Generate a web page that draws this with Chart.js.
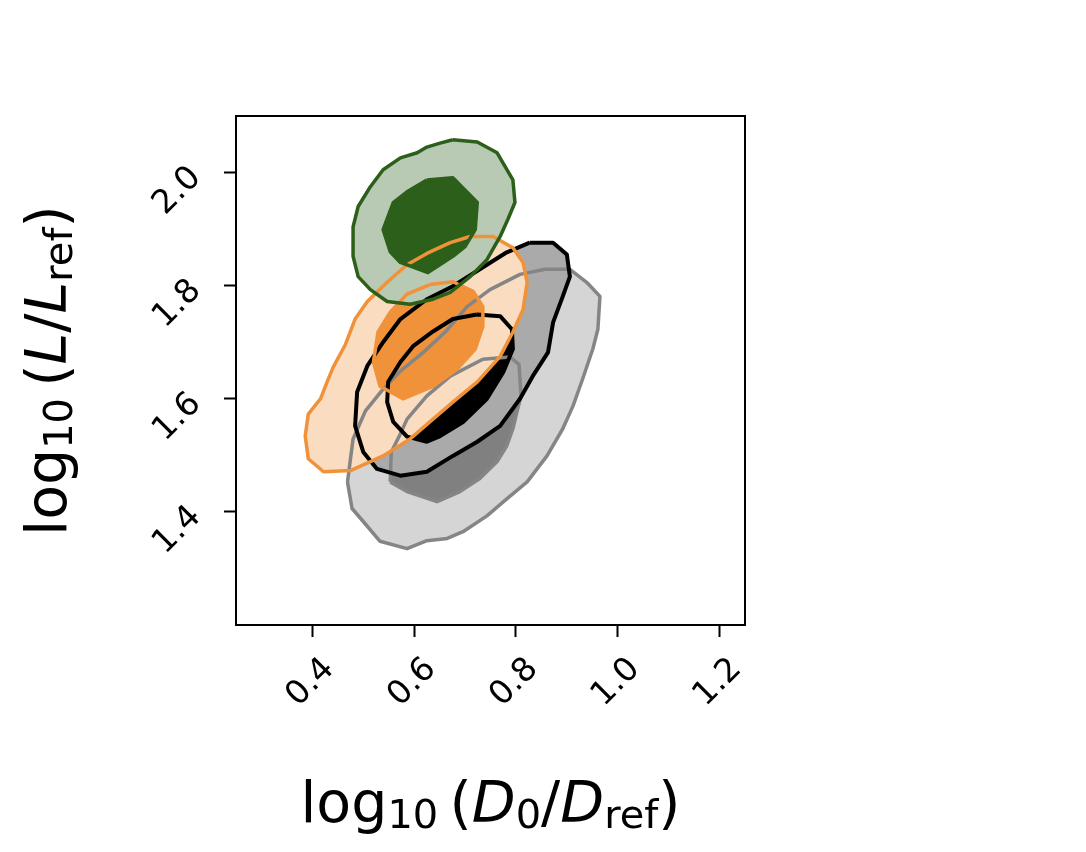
<!DOCTYPE html>
<html>
<head>
<meta charset="utf-8">
<script src="https://cdn.jsdelivr.net/npm/chart.js@4.4.1/dist/chart.umd.min.js"></script>
<style>
  body { margin: 0; background: #fff; }
  canvas { display: block; }
</style>
</head>
<body>
<canvas id="myPlot" width="1086" height="852"></canvas>
<script>
// tick labels
const xTicks = [0.4, 0.6, 0.8, 1.0, 1.2];
const yTicks = [1.4, 1.6, 1.8, 2.0];

// contour levels, [log10(D0/Dref), log10(L/Lref)]
const grayOuter = [[0.469,1.453],[0.478,1.406],[0.500,1.383],[0.533,1.348],[0.586,1.335],[0.625,1.349],[0.665,1.353],[0.696,1.365],[0.743,1.393],[0.782,1.423],[0.822,1.453],[0.861,1.499],[0.892,1.547],[0.912,1.587],[0.931,1.635],[0.951,1.688],[0.961,1.723],[0.965,1.781],[0.939,1.806],[0.906,1.829],[0.857,1.829],[0.808,1.820],[0.749,1.793],[0.704,1.763],[0.661,1.718],[0.618,1.682],[0.573,1.649],[0.539,1.617],[0.504,1.578],[0.480,1.529]];
const grayInner = [[0.553,1.453],[0.555,1.506],[0.573,1.538],[0.586,1.564],[0.625,1.605],[0.671,1.640],[0.735,1.670],[0.788,1.674],[0.806,1.661],[0.810,1.605],[0.802,1.577],[0.794,1.547],[0.782,1.517],[0.763,1.489],[0.729,1.459],[0.690,1.436],[0.645,1.418],[0.586,1.436]];
const blackOuter = [[0.827,1.876],[0.873,1.876],[0.900,1.855],[0.906,1.816],[0.892,1.781],[0.873,1.735],[0.863,1.682],[0.833,1.640],[0.808,1.600],[0.769,1.552],[0.724,1.524],[0.676,1.499],[0.625,1.471],[0.573,1.464],[0.527,1.476],[0.500,1.506],[0.484,1.552],[0.488,1.612],[0.508,1.658],[0.539,1.700],[0.573,1.741],[0.625,1.776],[0.676,1.799],[0.729,1.829],[0.782,1.859]];
const blackInner = [[0.723,1.749],[0.769,1.746],[0.792,1.723],[0.794,1.688],[0.775,1.647],[0.743,1.600],[0.696,1.559],[0.651,1.534],[0.625,1.524],[0.586,1.533],[0.559,1.559],[0.547,1.594],[0.549,1.630],[0.573,1.665],[0.598,1.693],[0.637,1.719],[0.676,1.741]];
const orangeOuter = [[0.710,1.887],[0.755,1.887],[0.794,1.867],[0.814,1.841],[0.822,1.806],[0.814,1.758],[0.794,1.718],[0.769,1.675],[0.724,1.630],[0.676,1.594],[0.637,1.564],[0.592,1.529],[0.539,1.499],[0.475,1.473],[0.422,1.471],[0.392,1.494],[0.386,1.534],[0.392,1.573],[0.416,1.600],[0.429,1.630],[0.441,1.656],[0.465,1.696],[0.484,1.741],[0.508,1.772],[0.547,1.806],[0.586,1.837],[0.625,1.857],[0.671,1.876]];
const orangeInner = [[0.631,1.802],[0.676,1.807],[0.716,1.790],[0.735,1.763],[0.735,1.728],[0.720,1.688],[0.684,1.652],[0.637,1.622],[0.578,1.600],[0.533,1.622],[0.520,1.665],[0.529,1.718],[0.553,1.753],[0.586,1.785]];
const greenOuter = [[0.676,2.058],[0.724,2.054],[0.763,2.035],[0.794,1.987],[0.798,1.947],[0.784,1.917],[0.769,1.887],[0.743,1.846],[0.710,1.816],[0.671,1.788],[0.637,1.776],[0.592,1.767],[0.547,1.772],[0.514,1.793],[0.490,1.816],[0.480,1.852],[0.480,1.904],[0.490,1.940],[0.514,1.975],[0.539,2.005],[0.573,2.026],[0.606,2.035],[0.625,2.045],[0.651,2.052]];
const greenInner = [[0.625,1.987],[0.676,1.991],[0.724,1.947],[0.720,1.899],[0.700,1.869],[0.676,1.852],[0.627,1.823],[0.573,1.841],[0.553,1.860],[0.539,1.899],[0.559,1.947],[0.586,1.966]];

// axis titles (mathtext-like pieces)
const xTitle = [{t:'log'},{t:'10',sub:1},{gap:0.2},{t:'('},{t:'D',it:1},{t:'0',sub:1},{t:'/'},{t:'D',it:1},{t:'ref',sub:1},{t:')'}];
const yTitle = [{t:'log'},{t:'10',sub:1},{gap:0.2},{t:'('},{t:'L',it:1},{t:'/'},{t:'L',it:1},{t:'ref',sub:1},{t:')'}];

const layers = [
  {pts: grayOuter,   fill: '#d5d5d5', line: '#858585', w: 3.5},
  {pts: grayInner,   fill: '#808080', line: '#858585', w: 3.5},
  {pts: blackOuter,  fill: '#aaaaaa', line: '#000000', w: 4},
  {pts: blackInner,  fill: '#000000', line: '#000000', w: 4},
  {pts: orangeOuter, fill: '#fadcc0', line: '#f0923a', w: 3.5},
  {pts: orangeInner, fill: '#f0923a', line: '#f0923a', w: 3.5},
  {pts: greenOuter,  fill: '#b8cab3', line: '#2c5f1a', w: 3.5},
  {pts: greenInner,  fill: '#2c5f1a', line: '#2c5f1a', w: 3.5}
];

function closed(pts) {
  return pts.concat([pts[0]]).map(p => ({x: p[0], y: p[1]}));
}

var datasets = [];
// all fills first, then all outlines on top (higher order = drawn earlier)
layers.forEach((l, i) => {
  datasets.push({
    data: closed(l.pts), showLine: true, fill: 'shape',
    backgroundColor: l.fill, borderColor: 'transparent', borderWidth: 0,
    pointRadius: 0, order: 100 - i
  });
});
layers.forEach((l, i) => {
  datasets.push({
    data: closed(l.pts), showLine: true, fill: false,
    borderColor: l.line, borderWidth: l.w, borderJoinStyle: 'round',
    pointRadius: 0, order: 50 - i
  });
});

function drawMath(ctx, parts, cx, cy, angle) {
  const S = 57;
  ctx.save();
  ctx.translate(cx, cy);
  ctx.rotate(angle);
  var items = parts.map(p => {
    var size = p.sub ? S * 0.7 : S;
    var font = (p.it ? 'italic ' : '') + size + 'px "DejaVu Sans"';
    ctx.font = font;
    return {t: p.t, sub: p.sub, font: font, w: p.t ? ctx.measureText(p.t).width : p.gap * S};
  });
  var total = items.reduce((a, b) => a + b.w, 0);
  var x = -total / 2;
  ctx.fillStyle = '#000';
  ctx.textAlign = 'left';
  ctx.textBaseline = 'alphabetic';
  items.forEach(it => {
    if (it.t) {
      ctx.font = it.font;
      ctx.fillText(it.t, x, it.sub ? S * 0.1 : 0);
    }
    x += it.w;
  });
  ctx.restore();
}

const frameAndTitles = {
  id: 'frameAndTitles',
  afterDraw(chart) {
    const ctx = chart.ctx, a = chart.chartArea;
    ctx.save();
    ctx.strokeStyle = '#000';
    ctx.lineWidth = 2;
    ctx.strokeRect(a.left, a.top, a.right - a.left, a.bottom - a.top);
    ctx.restore();
    drawMath(ctx, xTitle, (a.left + a.right) / 2, 822, 0);
    drawMath(ctx, yTitle, 66, (a.top + a.bottom) / 2, -Math.PI / 2);
  }
};

const tickFont = {family: 'DejaVu Sans', size: 33};

new Chart(document.getElementById('myPlot'), {
  type: 'scatter',
  data: {datasets: datasets},
  plugins: [frameAndTitles],
  options: {
    responsive: false,
    animation: false,
    devicePixelRatio: 1,
    layout: {padding: {left: 0, top: 116, right: 341, bottom: 0}},
    plugins: {legend: {display: false}, tooltip: {enabled: false}},
    scales: {
      x: {
        type: 'linear', min: 0.25, max: 1.25,
        afterBuildTicks: s => { s.ticks = xTicks.map(v => ({value: v})); },
        afterFit: s => { s.height = 227; },
        grid: {display: true, drawOnChartArea: false, drawTicks: true, tickLength: 12, tickWidth: 2, tickColor: '#000'},
        border: {display: false},
        ticks: {
          autoSkip: false, minRotation: 45, maxRotation: 45, padding: 13, labelOffset: 17,
          color: '#000', font: tickFont, callback: v => v.toFixed(1)
        }
      },
      y: {
        type: 'linear', min: 1.2, max: 2.1,
        afterBuildTicks: s => { s.ticks = yTicks.map(v => ({value: v})); },
        afterFit: s => { s.width = 236; },
        grid: {display: true, drawOnChartArea: false, drawTicks: true, tickLength: 12, tickWidth: 2, tickColor: '#000'},
        border: {display: false},
        ticks: {
          autoSkip: false, minRotation: 45, maxRotation: 45, padding: 28,
          color: '#000', font: tickFont, callback: v => v.toFixed(1)
        }
      }
    }
  }
});
</script>
</body>
</html>
